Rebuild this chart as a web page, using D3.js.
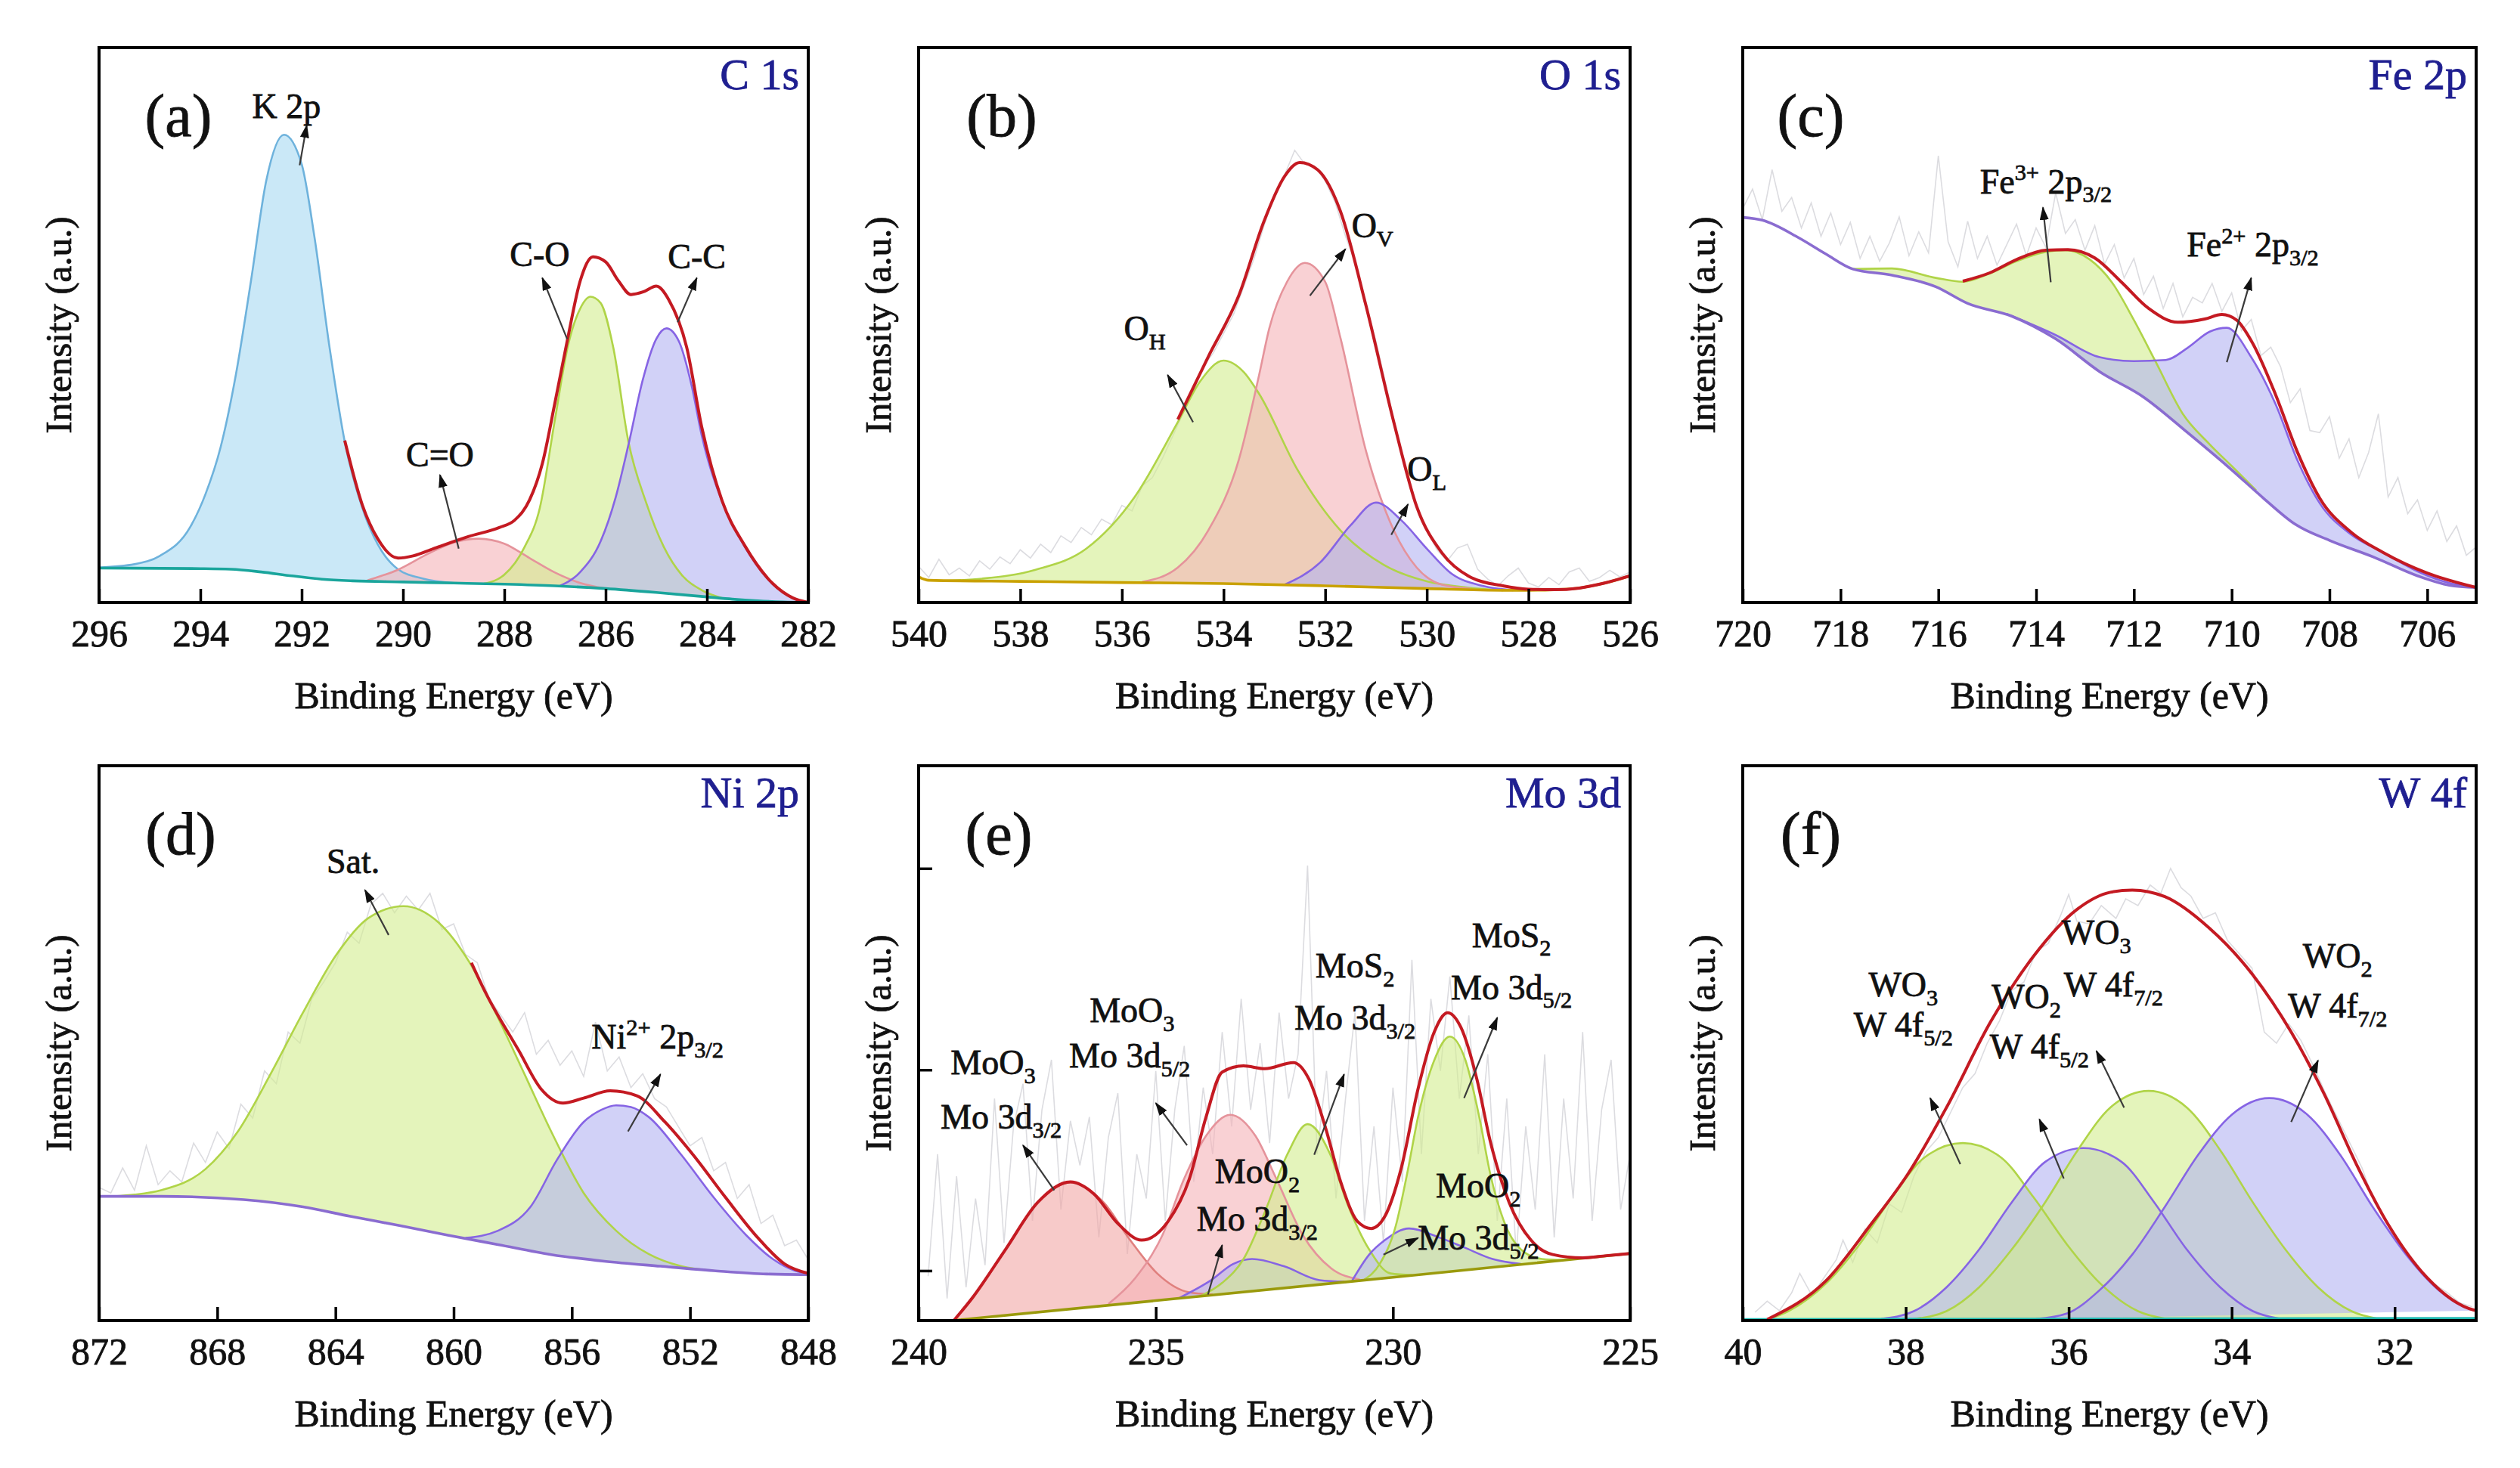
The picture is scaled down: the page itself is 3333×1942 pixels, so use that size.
<!DOCTYPE html>
<html lang="en">
<head>
<meta charset="UTF-8">
<title>XPS spectra</title>
<style>
  body { margin: 0; background: #fff; }
  svg { display: block; }
  text { font-family: 'Liberation Serif', 'Times New Roman', serif; fill: #111; stroke: #111; stroke-width: 0.8px; white-space: pre; }
  text.title { fill: #1f1f90; stroke: #1f1f90; }
</style>
<script src="https://d3js.org/d3.v7.min.js"></script>
</head>
<body>
<svg id="chart" width="3333" height="1942"></svg>
<script>
// ---------- data: [binding energy (eV), intensity (% of frame height)] ----------
// (a) C 1s
const aBg = [[296,6.2],[294,6.1],[293.4,6.0],[292.8,5.5],[292.2,4.8],[291.6,4.2],[291,3.9],[290,3.7],[289,3.5],[288,3.3],[287,3.0],[286,2.5],[285,1.8],[284,1.0],[283.5,0.6],[283,0.3],[282.5,0.1],[282,0]];
const aK2p = [[296,6.3],[295.3,6.9],[294.8,8.4],[294.2,13.6],[293.9,19.5],[293.6,28],[293.3,41],[293.0,58],[292.7,76],[292.35,84.3],[292.0,79],[291.75,66],[291.45,46],[291.15,29],[290.8,17],[290.5,10.5],[290.1,6.0],[289.6,4.3],[289.0,3.5]];
const aCeqO = [[290.7,4.0],[290.1,5.9],[289.5,8.8],[289.0,10.8],[288.5,11.5],[288.0,10.6],[287.5,8.0],[287.0,5.4],[286.5,3.5],[286.0,2.5]];
const aCO = [[288.4,3.4],[288.0,5.0],[287.6,10],[287.3,17],[287.0,33],[286.75,46],[286.5,53],[286.3,55.1],[286.1,54],[285.85,46],[285.55,29],[285.2,18],[284.85,10],[284.5,5],[284.1,2.2],[283.7,0.8]];
const aCC = [[286.9,3.0],[286.5,5.5],[286.1,11],[285.8,19],[285.54,28.8],[285.27,40],[285.0,47.5],[284.8,49.4],[284.55,47],[284.3,39],[284.1,30],[283.67,17.5],[283.25,10],[282.7,3.3],[282.3,0.8],[282.0,0]];
const aEnv = [[291.15,29.2],[290.8,17.5],[290.5,11.5],[290.1,8.0],[289.8,8.4],[289.4,9.7],[288.7,11.9],[288.1,13.5],[287.8,14.8],[287.5,18.5],[287.25,25],[287.0,36],[286.75,47.5],[286.5,58],[286.25,62.3],[286.0,61.4],[285.75,58],[285.5,55.5],[285.25,56],[285.0,57],[284.75,54.5],[284.4,46],[284.1,31.5],[283.7,18.3],[283.25,10.2],[282.7,3.4],[282.3,0.8],[282,0]];

// (b) O 1s
const bBg = [[540,4.6],[539.8,4.0],[538,3.8],[536,3.6],[534,3.4],[532,3.0],[530,2.5],[528.5,2.2],[528,2.2],[527.5,2.3],[527,2.6],[526.5,3.5],[526,4.8]];
const bOH = [[539.5,3.9],[538.75,4.3],[537.7,5.9],[536.7,9.7],[535.75,19],[534.9,32.5],[534.45,40],[534.0,43.6],[533.6,41.5],[533.3,37.6],[532.55,24],[531.7,13],[530.85,6.8],[530.0,3.8],[529.2,2.7],[528.5,2.2]];
const bOV = [[535.6,3.7],[534.9,6.3],[534.3,13],[533.7,25.7],[533.3,41],[533.1,49.4],[532.75,57.8],[532.4,61.2],[532.0,57.8],[531.7,47.7],[531.2,27.4],[530.65,13],[530.2,6.3],[529.7,3.2],[529.15,2.5]];
const bOL = [[532.8,3.2],[532.1,7.2],[531.5,13.9],[531.0,18],[530.5,14.8],[530.0,9.7],[529.5,5.1],[528.9,3.0],[528.3,2.2]];
const bEnv = [[534.9,33],[534.3,44.3],[533.7,55.3],[533.2,68.8],[532.8,76.8],[532.5,79.3],[532.15,78],[531.7,70.5],[531.2,53.6],[530.65,32.5],[530.2,17.3],[529.7,8.9],[529.15,4.6],[528.5,3.0],[528.0,2.4],[527.5,2.3],[527,2.6],[526.5,3.5],[526,4.8]];
const bRaw = [[540,6.5],[539.8,4.5],[539.6,7.8],[539.4,5.0],[539.2,6.2],[539.0,4.8],[538.8,7.5],[538.6,6.0],[538.4,8.2],[538.2,7.0],[538.0,9.5],[537.8,8.0],[537.6,10.5],[537.4,9.0],[537.2,12.0],[537.0,10.8],[536.8,13.5],[536.6,12.2],[536.4,15.0],[536.2,14.0],[536.0,17.5],[535.8,16.5],[535.6,21.0],[535.4,22.5],[535.2,26],[535.0,30],[534.8,34],[534.6,38],[534.4,42.5],[534.2,45],[534.0,48.5],[533.8,52],[533.6,57],[533.4,62],[533.2,68],[533.0,73.5],[532.8,77],[532.6,81.5],[532.4,79],[532.2,78.5],[532.0,76],[531.8,72],[531.6,66],[531.4,61],[531.2,54],[531.0,47],[530.8,39],[530.6,31],[530.4,24],[530.2,17.5],[530.0,13],[529.8,9.5],[529.6,7.5],[529.4,9.8],[529.2,10.5],[529.0,6.0],[528.8,4.2],[528.6,3.0],[528.4,4.8],[528.2,6.2],[528.0,3.5],[527.8,2.8],[527.6,4.5],[527.4,3.2],[527.2,5.5],[527.0,6.2],[526.8,3.8],[526.6,4.5],[526.4,5.8],[526.2,4.6],[526.0,5.5]];

// (c) Fe 2p
const cBg = [[720,69.4],[719.6,68.9],[718.85,65.7],[718.3,62.8],[717.75,60.1],[716.95,59],[716.05,56.9],[715.4,53.9],[714.5,51.6],[713.6,47.5],[712.7,41.6],[711.8,37],[710.9,30.6],[710.0,23.9],[709.35,18.8],[708.7,14.1],[708.0,11.2],[707.1,8.2],[706.2,4.8],[705.55,3.1],[705,2.7]];
const cFe3 = [[717.75,60.1],[716.95,60.2],[716.05,58.5],[715.5,57.8],[714.95,59.3],[714.4,61.5],[713.8,63.2],[713.4,63.5],[712.9,61.8],[712.45,57.7],[712.0,50.9],[711.55,43.3],[711.0,34.0],[710.45,28.5],[710.0,24.6],[709.5,20.2]];
const cFe2 = [[714.6,52],[713.6,48.2],[712.7,44.2],[712.0,43.5],[711.35,43.7],[710.9,45.9],[710.45,48.8],[710.1,49.5],[709.6,44.2],[709.1,35.7],[708.65,25.5],[708.2,17.9],[707.55,12.2],[706.9,9.0],[706.2,5.6],[705.5,3.4],[705,2.7]];
const cEnv = [[715.5,57.9],[714.95,59.4],[714.4,61.8],[713.8,63.5],[713.35,63.6],[712.8,62.1],[712.25,57.7],[711.7,53],[711.1,50.5],[710.55,51.1],[710.2,51.9],[709.9,50.9],[709.57,46.7],[709.1,37.4],[708.66,27.2],[708.2,18.8],[707.55,12.6],[706.9,9.0],[706.0,5.3],[705,2.7]];
const cRaw = [[720,71],[719.8,74.5],[719.6,69],[719.4,78],[719.2,70.5],[719.0,73],[718.8,67.5],[718.6,72],[718.4,66],[718.2,70.2],[718.0,64.5],[717.8,68.5],[717.6,62],[717.4,66],[717.2,61.5],[717.0,64.8],[716.8,69.5],[716.6,62.5],[716.4,66.8],[716.2,63],[716.0,80.5],[715.8,65],[715.6,60.5],[715.4,68.7],[715.2,62],[715.0,66],[714.8,60.8],[714.6,64.5],[714.4,68.2],[714.2,62.5],[714.0,67.5],[713.8,64],[713.6,73.8],[713.4,66.5],[713.2,69],[713.0,63.5],[712.8,67.9],[712.6,61],[712.4,64.5],[712.2,58.5],[712.0,62],[711.8,55.5],[711.6,58.8],[711.4,53],[711.2,57.5],[711.0,51.5],[710.8,55],[710.6,54],[710.4,57.5],[710.2,52.5],[710.0,55.8],[709.8,49],[709.6,51],[709.4,44.5],[709.2,46],[709.0,42.5],[708.8,36],[708.6,38.5],[708.4,31],[708.2,30.6],[708.0,33.5],[707.8,26],[707.6,29.5],[707.4,22.5],[707.2,27],[707.0,34],[706.8,19],[706.6,22.5],[706.4,16],[706.2,18.5],[706.0,13],[705.8,16.5],[705.6,11],[705.4,13.8],[705.2,8.5],[705.0,10]];

// (d) Ni 2p
const dBg = [[872,22.4],[869.9,22.4],[867.1,21.8],[865.1,20.5],[863.5,18.8],[861.8,17.1],[860.2,15.4],[858.5,13.7],[856.7,11.9],[854.9,10.7],[853.0,9.8],[851.2,9.0],[849.4,8.4],[848,8.3]];
const dSat = [[871.5,22.4],[870.8,22.7],[869.9,23.5],[868.4,27.3],[867.3,34.1],[866.2,44.4],[865.1,55.5],[864.0,65.7],[862.9,72.5],[861.7,74.7],[860.5,71.7],[859.4,64],[858.5,54.6],[857.6,44.4],[856.7,34.1],[855.6,23],[854.5,16.2],[853.4,12],[852.3,9.8],[851.2,9.0]];
const dNi = [[859.6,14.9],[858.5,16.2],[857.4,20.5],[856.5,29],[855.6,35.8],[855.0,38.0],[854.5,38.8],[854.0,38.5],[853.4,36.7],[852.3,29.9],[851.2,22.2],[850.1,15.4],[849.2,11.1],[848.45,9],[848,8.5]];
const dEnv = [[859.4,64.5],[858.9,58.9],[857.8,48.7],[857.05,41.8],[856.3,39.2],[855.6,40.1],[854.7,41.4],[853.8,40.5],[852.85,35.8],[851.9,29.9],[850.8,22.2],[849.7,14.9],[848.8,10.2],[848,8.5]];
const dRaw = [[872,24],[871.6,23],[871.2,27.5],[870.8,23.5],[870.4,31.5],[870.0,24.5],[869.6,27],[869.2,25],[868.8,32],[868.4,28.5],[868.0,34],[867.6,31],[867.2,39],[866.8,36.5],[866.4,45],[866.0,42.7],[865.6,52],[865.2,50],[864.8,58],[864.4,61],[864.0,64.5],[863.6,70],[863.2,68],[862.8,75],[862.4,77],[862.0,73.5],[861.6,76.5],[861.2,74],[860.8,77],[860.4,70.5],[860.0,71.5],[859.6,66],[859.2,64.5],[858.8,58],[858.4,55],[858.0,52],[857.6,55.5],[857.2,48],[856.8,50.5],[856.4,46],[856.0,48.6],[855.6,44],[855.2,53.8],[854.8,45],[854.4,47.5],[854.0,42],[853.6,44.5],[853.2,40],[852.8,38.5],[852.4,35],[852.0,31.5],[851.6,33],[851.2,27],[850.8,28.5],[850.4,22],[850.0,24.5],[849.6,17.5],[849.2,19],[848.8,13.5],[848.4,14.5],[848,11]];

// (e) Mo 3d
const eBg = [[239.3,0],[235,3.6],[230,7.8],[225,12.1]];
const eMoO3a = [[239.26,0],[238.86,4.0],[238.17,12.8],[237.49,21.3],[236.8,24.9],[236.1,21.3],[235.54,14.5],[234.97,8.5],[234.3,5.1],[233.8,4.7]];
const eMoO3b = [[236.0,3.0],[235.43,7.7],[234.86,15.4],[234.4,25.6],[233.94,33.3],[233.43,37.1],[232.9,33.3],[232.46,25.6],[231.9,15.4],[231.3,9.4],[230.7,7.4]];
const eMoO2a = [[234.5,4.1],[233.83,7.3],[233.37,10.2],[232.97,11.1],[232.3,9.8],[231.55,7.3],[231.0,7.0]];
const eMoS2a = [[234.06,4.4],[233.6,6.8],[233.15,11.1],[232.7,19.6],[232.23,29.9],[231.8,35.4],[231.32,29.9],[230.97,21.3],[230.5,12.8],[230.05,8.5],[229.6,8.2]];
const eMoO2b = [[230.86,7.2],[230.5,11.9],[230.17,14.5],[229.66,16.6],[229.0,14.9],[228.5,13.2],[227.9,11.1],[227.3,10.2]];
const eMoS2b = [[230.6,7.4],[230.28,10.2],[229.94,17.1],[229.7,26.5],[229.47,36.7],[229.13,46.9],[228.8,51.2],[228.47,46.9],[228.18,36.7],[227.95,26.5],[227.66,17.9],[227.3,12.8],[226.86,11.1],[226.4,10.9]];
const eEnv = [[239.26,0],[238.86,4.2],[238.17,12.8],[237.49,21.3],[236.8,25],[236.3,22.8],[235.8,17.5],[235.3,14.5],[234.74,17.9],[234.29,25.6],[233.94,36.7],[233.6,44.8],[233.15,45.9],[232.7,45.4],[232.1,46.5],[231.77,43.5],[231.43,35],[231.09,24.7],[230.75,17.9],[230.46,16.6],[230.17,18.8],[229.83,27.3],[229.47,41.8],[229.13,52],[228.85,55.5],[228.57,52.9],[228.23,43.5],[227.95,32.4],[227.55,21.3],[227.09,14.5],[226.63,11.9],[226.0,11.3],[225.5,11.7],[225,12.1]];
const eRaw = [[239.8,8],[239.6,30],[239.4,4],[239.2,26],[239.0,6],[238.8,22],[238.6,10],[238.4,40],[238.2,14],[238.0,35],[237.8,42.7],[237.6,18],[237.4,38],[237.2,47],[237.0,20],[236.8,36],[236.6,28],[236.4,36.7],[236.2,15],[236.0,33],[235.8,41],[235.6,12],[235.4,30],[235.2,22],[235.0,45],[234.8,18],[234.6,38],[234.4,49.5],[234.2,25],[234.0,42],[233.8,30],[233.6,52],[233.4,35],[233.2,58],[233.0,38],[232.8,50],[232.6,32],[232.4,55.5],[232.2,40],[232.0,48],[231.8,82],[231.6,30],[231.4,45],[231.2,22],[231.0,40],[230.8,55.5],[230.6,18],[230.4,35],[230.2,14],[230.0,42],[229.8,25],[229.6,65],[229.4,30],[229.2,58],[229.0,45],[228.8,62],[228.6,40],[228.4,55],[228.2,30],[228.0,48],[227.8,18],[227.6,40],[227.4,12],[227.2,35],[227.0,20],[226.8,48],[226.6,15],[226.4,40],[226.2,22],[226.0,52],[225.8,18],[225.6,38],[225.4,47],[225.2,20],[225.0,30]];
const eYTicks = [9, 45.2, 81.5];

// (f) W 4f
const fBg = [[40,0.2],[31,0.4]];
const fWO3a = [[39.7,0.2],[39.44,1.7],[38.97,6.8],[38.57,13.7],[38.17,22.2],[37.77,29.4],[37.3,32],[36.83,29.4],[36.43,22.2],[36.02,13.7],[35.62,6.8],[35.15,1.7],[34.8,0.3]];
const fWO2a = [[38.3,0.3],[37.9,1.7],[37.5,6],[37.1,12.8],[36.7,21.3],[36.29,28.6],[35.82,31.1],[35.35,28.6],[34.95,21.3],[34.55,12.8],[34.14,6],[33.74,1.7],[33.4,0.3]];
const fWO3b = [[37.9,0.3],[37.5,1.7],[37.1,6],[36.7,12.8],[36.29,21.3],[35.89,30.7],[35.49,38.4],[35.02,41.4],[34.55,38.4],[34.14,30.7],[33.74,21.3],[33.34,12.8],[32.94,6],[32.53,1.7],[32.2,0.3]];
const fWO2b = [[36.4,0.3],[36.02,1.3],[35.62,5.5],[35.22,11.9],[34.82,20.5],[34.41,29.9],[34.0,37.1],[33.54,40.1],[33.07,37.1],[32.67,29.9],[32.27,20.5],[31.86,11.9],[31.46,5.5],[31.03,1.9],[31,1.8]];
const fEnv = [[39.7,0.2],[38.97,7.3],[38.44,17.1],[37.97,26.5],[37.5,38.4],[36.96,53.8],[36.43,65.7],[35.89,74.2],[35.49,77.2],[35.22,77.6],[34.82,76.4],[34.28,70.8],[33.74,62.3],[33.27,52],[32.87,41],[32.47,28.2],[32.07,17.1],[31.6,7.7],[31.03,1.9],[31,1.8]];
const fRaw = [[39.85,1.5],[39.7,3.5],[39.55,1.8],[39.4,5],[39.3,8.5],[39.15,4.5],[39.0,7.8],[38.85,11],[38.77,14.5],[38.65,10.5],[38.5,16.5],[38.35,14],[38.2,21],[38.05,19.5],[37.9,26],[37.75,30.5],[37.6,33],[37.45,37.5],[37.3,42],[37.15,44.5],[37.0,50],[36.85,54],[36.7,59.5],[36.55,61],[36.4,66.5],[36.25,68],[36.1,73],[36.0,76.8],[35.9,72],[35.75,71.5],[35.6,74.8],[35.42,72.5],[35.3,76],[35.15,74.8],[35.0,78.5],[34.87,77],[34.75,81.5],[34.62,78],[34.5,76.5],[34.35,72.5],[34.2,73.5],[34.05,68.5],[33.9,66],[33.75,63.5],[33.6,52],[33.45,50],[33.3,53.5],[33.15,50.5],[33.0,46],[32.85,41],[32.7,36.5],[32.55,32],[32.4,27.5],[32.25,21.3],[32.1,18],[31.95,14.5],[31.8,11],[31.65,8.5],[31.5,6.5],[31.35,5],[31.2,3.2],[31.05,2.5]];

// tick labels
const aTicks = [296,294,292,290,288,286,284,282];
const bTicks = [540,538,536,534,532,530,528,526];
const cTicks = [720,718,716,714,712,710,708,706];
const dTicks = [872,868,864,860,856,852,848];
const eTicks = [240,235,230,225];
const fTicks = [40,38,36,34,32];

// ---------- annotations (label line centres and arrows, in data units) ----------
const aLabels = [
  {lines: [['K 2p', 292.3, 89.4]], arrow: [292.04, 78.8, 291.9, 86.0]},
  {lines: [['C=O', 289.27, 26.7]], arrow: [288.9, 9.7, 289.27, 23.0]},
  {lines: [['C-O', 287.3, 62.7]], arrow: [286.76, 47.5, 287.25, 58.5]},
  {lines: [['C-C', 284.2, 62.3]], arrow: [284.58, 50.5, 284.2, 58.5]}
];
const bLabels = [
  {lines: [['O_{H}', 535.55, 49.4]], arrow: [534.6, 32.5, 535.1, 41]},
  {lines: [['O_{V}', 531.07, 67.9]], arrow: [532.3, 55.3, 531.6, 63.7]},
  {lines: [['O_{L}', 530.0, 24]], arrow: [530.7, 12.2, 530.37, 17.7]}
];
const cLabels = [
  {lines: [['Fe^{3+} 2p_{3/2}', 713.8, 75.9]], arrow: [713.7, 57.7, 713.86, 71.2]},
  {lines: [['Fe^{2+} 2p_{3/2}', 709.57, 64.5]], arrow: [710.1, 43.3, 709.6, 58.5]}
];
const dLabels = [
  {lines: [['Sat.', 863.4, 82.8]], arrow: [862.2, 69.5, 863.0, 77.6]},
  {lines: [['Ni^{2+} 2p_{3/2}', 853.1, 51.2]], arrow: [854.1, 34.1, 853.0, 44.4]}
];
const eLabels = [
  {lines: [['MoO_{3}', 238.43, 46.5], ['Mo 3d_{3/2}', 238.26, 36.7]], arrow: [237.14, 23.5, 237.8, 31.6]},
  {lines: [['MoO_{3}', 235.5, 55.9], ['Mo 3d_{5/2}', 235.55, 47.8]], arrow: [234.34, 31.6, 235.0, 39.2]},
  {lines: [['MoO_{2}', 232.86, 26.9], ['Mo 3d_{3/2}', 232.86, 18.3]], arrow: [233.9, 4.7, 233.6, 13.6]},
  {lines: [['MoS_{2}', 230.8, 64], ['Mo 3d_{3/2}', 230.8, 54.6]], arrow: [231.66, 29.9, 231.03, 44.4]},
  {lines: [['MoS_{2}', 227.5, 69.5], ['Mo 3d_{5/2}', 227.5, 60.1]], arrow: [228.5, 40.1, 227.8, 54.6]},
  {lines: [['MoO_{2}', 228.2, 24.3], ['Mo 3d_{5/2}', 228.2, 14.9]], arrow: [230.2, 11.9, 229.47, 14.9]}
];
const fLabels = [
  {lines: [['WO_{3}', 38.03, 60.6], ['W 4f_{5/2}', 38.03, 53.3]], arrow: [37.33, 28.2, 37.7, 40.1]},
  {lines: [['WO_{2}', 36.52, 58.4], ['W 4f_{5/2}', 36.36, 49.4]], arrow: [36.06, 25.6, 36.36, 36.3]},
  {lines: [['WO_{3}', 35.66, 70], ['W 4f_{7/2}', 35.45, 60.6]], arrow: [35.32, 38.4, 35.66, 48.6]},
  {lines: [['WO_{2}', 32.7, 65.7], ['W 4f_{7/2}', 32.7, 56.7]], arrow: [33.27, 35.8, 32.94, 46.9]}
];

// ---------- layout / styles ----------
const cols = [[131, 1069], [1215, 2156], [2305, 3275]];
const rows = [[63, 797], [1013, 1747]];

const palette = {
  green: {fill: '#d2ec8e', stroke: '#b0d448'},
  blue:  {fill: '#b2b2f2', stroke: '#8664e4'},
  pink:  {fill: '#f5b3b7', stroke: '#e5939b'},
  red:   {fill: '#f1a7a5', stroke: '#e0807e'},
  sky:   {fill: '#a6d8f2', stroke: '#6eb2dc'}
};

const panels = [
  {id: 'a', letter: '(a)', title: 'C 1s', col: 0, row: 0, letterDx: 105, domain: [296, 282], ticks: aTicks,
   bg: aBg, bgColor: '#1aa59c', raw: null, env: aEnv, labels: aLabels,
   peaks: [{d: aK2p, c: 'sky'}, {d: aCeqO, c: 'pink'}, {d: aCO, c: 'green'}, {d: aCC, c: 'blue'}]},
  {id: 'b', letter: '(b)', title: 'O 1s', col: 1, row: 0, letterDx: 110, domain: [540, 526], ticks: bTicks,
   bg: bBg, bgColor: '#c9a100', raw: bRaw, env: bEnv, labels: bLabels,
   peaks: [{d: bOH, c: 'green'}, {d: bOV, c: 'pink'}, {d: bOL, c: 'blue'}]},
  {id: 'c', letter: '(c)', title: 'Fe 2p', col: 2, row: 0, letterDx: 90, domain: [720, 705], ticks: cTicks,
   bg: cBg, bgColor: '#8a6cd0', raw: cRaw, env: cEnv, labels: cLabels,
   peaks: [{d: cFe3, c: 'green'}, {d: cFe2, c: 'blue'}]},
  {id: 'd', letter: '(d)', title: 'Ni 2p', col: 0, row: 1, letterDx: 108, domain: [872, 848], ticks: dTicks,
   bg: dBg, bgColor: '#8a6cd0', raw: dRaw, env: dEnv, labels: dLabels,
   peaks: [{d: dSat, c: 'green'}, {d: dNi, c: 'blue'}]},
  {id: 'e', letter: '(e)', title: 'Mo 3d', col: 1, row: 1, letterDx: 106, domain: [240, 225], ticks: eTicks,
   bg: eBg, bgColor: '#9a9a0c', raw: eRaw, env: eEnv, labels: eLabels, yTicks: eYTicks,
   peaks: [{d: eMoO3a, c: 'red'}, {d: eMoO3b, c: 'pink'}, {d: eMoO2a, c: 'blue'}, {d: eMoS2a, c: 'green'}, {d: eMoO2b, c: 'blue'}, {d: eMoS2b, c: 'green'}]},
  {id: 'f', letter: '(f)', title: 'W 4f', col: 2, row: 1, letterDx: 90, domain: [40, 31], ticks: fTicks,
   bg: fBg, bgColor: '#20b8b0', raw: fRaw, env: fEnv, labels: fLabels,
   peaks: [{d: fWO3a, c: 'green'}, {d: fWO2a, c: 'blue'}, {d: fWO3b, c: 'green'}, {d: fWO2b, c: 'blue'}]}
];

const svg = d3.select('#chart');
svg.append('rect').attr('width', 3333).attr('height', 1942).attr('fill', '#fff');
const defs = svg.append('defs');
defs.append('marker')
    .attr('id', 'arrow')
    .attr('viewBox', '0 0 12 8')
    .attr('refX', 11).attr('refY', 4)
    .attr('markerWidth', 18).attr('markerHeight', 12)
    .attr('markerUnits', 'userSpaceOnUse')
    .attr('orient', 'auto')
  .append('path')
    .attr('d', 'M0,0L12,4L0,8Z')
    .attr('fill', '#111');

// text with ^{sup} and _{sub} parts
function rich(sel, str, size) {
    const parts = str.split(/(\^\{[^}]*\}|_\{[^}]*\})/).filter(s => s.length);
    let shift = 0;
    parts.forEach(s => {
        let txt = s, fs = size, dy;
        if (s[0] === '^') { txt = s.slice(2, -1); fs = size * 0.66; dy = -0.38 * size - shift; shift = -0.38 * size; }
        else if (s[0] === '_') { txt = s.slice(2, -1); fs = size * 0.66; dy = 0.26 * size - shift; shift = 0.26 * size; }
        else { dy = -shift; shift = 0; }
        sel.append('tspan').attr('font-size', fs).attr('dy', dy).text(txt);
    });
}

function drawPanel(p) {
    const [x0, x1] = cols[p.col];
    const [y0, y1] = rows[p.row];
    const x = d3.scaleLinear().domain(p.domain).range([x0, x1]);
    const y = d3.scaleLinear().domain([0, 100]).range([y1, y0]);
    const g = svg.append('g').attr('class', 'panel-' + p.id);

    defs.append('clipPath').attr('id', 'clip-' + p.id)
      .append('rect').attr('x', x0).attr('y', y0).attr('width', x1 - x0).attr('height', y1 - y0);
    const plot = g.append('g').attr('clip-path', `url(#clip-${p.id})`);

    const line = d3.line().x(d => x(d[0])).y(d => y(d[1])).curve(d3.curveMonotoneX);
    const rawLine = d3.line().x(d => x(d[0])).y(d => y(d[1]));

    if (p.raw) {
        plot.append('path').attr('d', rawLine(p.raw))
            .attr('fill', 'none').attr('stroke', '#dcdce0').attr('stroke-width', 1.6);
    }

    // peak areas between component and background
    p.peaks.forEach(pk => {
        const first = pk.d[0][0], last = pk.d[pk.d.length - 1][0];
        const inner = p.bg.filter(b => b[0] < first && b[0] > last).reverse();
        const back = [pk.d[pk.d.length - 1], ...inner, pk.d[0]];
        plot.append('path')
            .attr('d', line(pk.d) + line(back).replace(/^M/, 'L') + 'Z')
            .attr('fill', palette[pk.c].fill).attr('fill-opacity', 0.6);
    });
    p.peaks.forEach(pk => {
        plot.append('path').attr('d', line(pk.d))
            .attr('fill', 'none').attr('stroke', palette[pk.c].stroke).attr('stroke-width', 2.6);
    });

    plot.append('path').attr('d', line(p.bg))
        .attr('fill', 'none').attr('stroke', p.bgColor).attr('stroke-width', 3.6);
    plot.append('path').attr('d', line(p.env))
        .attr('fill', 'none').attr('stroke', '#c41a22').attr('stroke-width', 4);

    // frame
    g.append('rect').attr('x', x0).attr('y', y0).attr('width', x1 - x0).attr('height', y1 - y0)
        .attr('fill', 'none').attr('stroke', '#000').attr('stroke-width', 4);

    const xAxis = d3.axisBottom(x).tickValues(p.ticks).tickSize(-18).tickSizeOuter(0)
        .tickPadding(22).tickFormat(d3.format('d'));
    const axg = g.append('g').attr('transform', `translate(0,${y1})`).call(xAxis);
    axg.select('.domain').remove();
    axg.selectAll('line').attr('stroke', '#000').attr('stroke-width', 3.5);
    axg.selectAll('text').attr('font-size', 50);

    if (p.yTicks) {
        const yAxis = d3.axisLeft(y).tickValues(p.yTicks).tickSize(-18).tickFormat('');
        const ayg = g.append('g').attr('transform', `translate(${x0},0)`).call(yAxis);
        ayg.select('.domain').remove();
        ayg.selectAll('line').attr('stroke', '#000').attr('stroke-width', 3.5);
    }

    g.append('text')
        .attr('x', (x0 + x1) / 2).attr('y', y1 + 140)
        .attr('text-anchor', 'middle').attr('font-size', 50)
        .text('Binding Energy (eV)');
    g.append('text')
        .attr('transform', `translate(${x0 - 54},${(y0 + y1) / 2}) rotate(-90)`)
        .attr('text-anchor', 'middle').attr('dominant-baseline', 'central').attr('font-size', 49)
        .text('Intensity (a.u.)');

    g.append('text')
        .attr('x', x0 + p.letterDx).attr('y', y0 + 117)
        .attr('text-anchor', 'middle').attr('font-size', 80)
        .text(p.letter);
    g.append('text')
        .attr('class', 'title')
        .attr('x', x1 - 12).attr('y', y0 + 55)
        .attr('text-anchor', 'end').attr('font-size', 58)
        .text(p.title);

    // peak annotations
    p.labels.forEach(lb => {
        const [ax1, ay1, ax2, ay2] = lb.arrow;
        g.append('line')
            .attr('x1', x(ax1)).attr('y1', y(ay1)).attr('x2', x(ax2)).attr('y2', y(ay2))
            .attr('stroke', '#3a3a3a').attr('stroke-width', 2.2)
            .attr('marker-end', 'url(#arrow)');
        lb.lines.forEach(([str, lx, ly]) => {
            const t = g.append('text')
                .attr('x', x(lx)).attr('y', y(ly) + 0.34 * 46)
                .attr('text-anchor', 'middle').attr('font-size', 46);
            rich(t, str, 46);
        });
    });
}

panels.forEach(drawPanel);
</script>
</body>
</html>
